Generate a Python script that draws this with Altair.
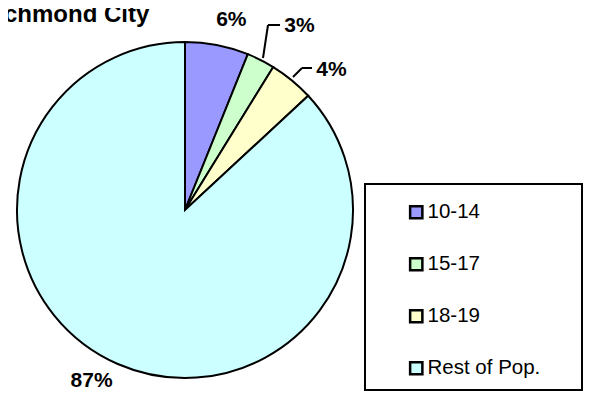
import altair as alt
import pandas as pd

# ---- data ----
categories = ["10-14", "15-17", "18-19", "Rest of Pop."]
values = [6.1, 2.7, 4.3, 86.9]
colors = ["#9999FF", "#CCFFCC", "#FFFFCC", "#CCFFFF"]
title_text = "Richmond City"

df = pd.DataFrame({"group": categories, "value": values, "idx": list(range(len(categories)))})
total = float(sum(values))

OFF = 8  # page margin: view coords = image coords - 8
CX, CY, R = 185 - OFF, 210 - OFF, 168
FONT = "Liberation Sans"

theta_scale = alt.Scale(domain=[0, total])

base = (
    alt.Chart(df)
    .transform_window(cum="sum(value)", sort=[alt.SortField("idx")], frame=[None, 0])
    .transform_calculate(
        start="datum.cum - datum.value",
        mid="datum.cum - datum.value / 2",
        frac=f"datum.value / {total}",
    )
)

legend = alt.Legend(
    title=None,
    orient="none",
    legendX=398,
    legendY=194,
    symbolType="square",
    symbolSize=150,
    symbolStrokeColor="black",
    symbolStrokeWidth=2.5,
    symbolOpacity=1,
    labelFont=FONT,
    labelFontSize=20.5,
    labelColor="black",
    labelOffset=1,
    rowPadding=29,
    padding=0,
)

pie = base.mark_arc(outerRadius=R, stroke="black", strokeWidth=2).encode(
    theta=alt.Theta("start:Q", scale=theta_scale),
    theta2="cum:Q",
    color=alt.Color("group:N", scale=alt.Scale(domain=categories, range=colors), legend=legend),
    x=alt.value(CX),
    y=alt.value(CY),
)


def label(cat, dx, dy, radius=196):
    return (
        base.transform_filter(alt.datum.group == cat)
        .mark_text(
            radius=radius, dx=dx, dy=dy, font=FONT, fontSize=21, fontWeight="bold",
            align="center", baseline="middle", color="black",
        )
        .encode(
            theta=alt.Theta("mid:Q", scale=theta_scale),
            text=alt.Text("frac:Q", format=".0%"),
            x=alt.value(CX),
            y=alt.value(CY),
        )
    )


labels = [
    label("10-14", 9, 2),
    label("15-17", 26, -9),
    label("18-19", 22, 11),
    label("Rest of Pop.", -15, -9),
]

dummy = pd.DataFrame({"k": [0]})


def seg(x1, y1, x2, y2):
    return alt.Chart(dummy).mark_rule(color="black", strokeWidth=2).encode(
        x=alt.value(x1 - OFF), y=alt.value(y1 - OFF), x2=alt.value(x2 - OFF), y2=alt.value(y2 - OFF)
    )


leaders = [
    seg(263, 58, 268, 25),
    seg(268, 25, 280, 25),
    seg(293, 77, 302, 68),
    seg(302, 68, 312, 68),
]

box = alt.Chart(dummy).mark_rect(fill="white", stroke="black", strokeWidth=2).encode(
    x=alt.value(365 - OFF), x2=alt.value(582 - OFF), y=alt.value(184 - OFF), y2=alt.value(390 - OFF)
)

title = alt.Chart(dummy).mark_text(
    font=FONT, fontSize=24, fontWeight="bold", align="left", baseline="alphabetic", color="black"
).encode(text=alt.value(title_text), x=alt.value(-20 - OFF), y=alt.value(22 - OFF))

chart = (
    alt.layer(box, pie, *leaders, *labels, title)
    .properties(width=576, height=384, padding=0, autosize=alt.AutoSizeParams(type="none"))
    .configure_view(stroke=None)
)

chart.save("out.html", embed_options={"renderer": "svg", "actions": False})
